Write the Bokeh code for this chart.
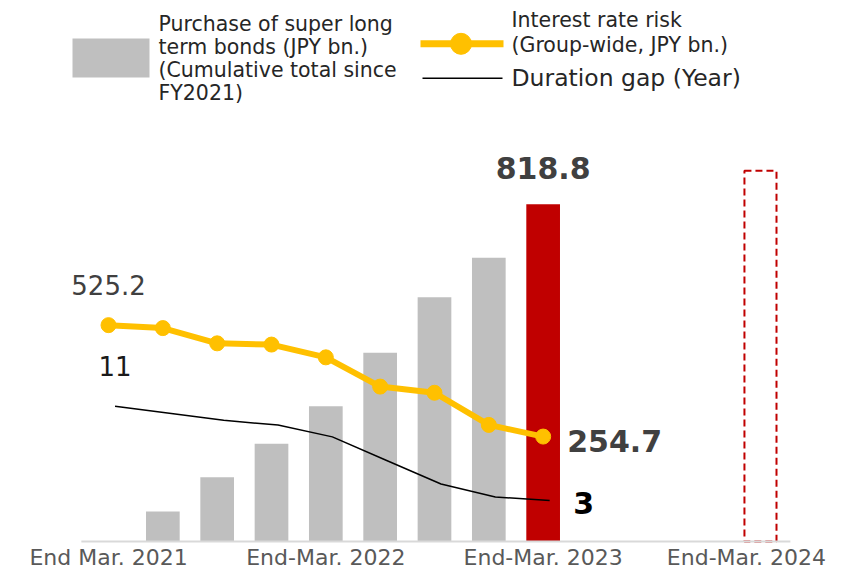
from bokeh.plotting import figure
from bokeh.models import Range1d, ColumnDataSource
from bokeh.core.properties import value
from bokeh.transform import dodge
from bokeh.embed import file_html
from bokeh.resources import INLINE

# ---------------- data ----------------
quarters = ["Mar-21", "Jun-21", "Sep-21", "Dec-21", "Mar-22", "Jun-22", "Sep-22",
            "Dec-22", "Mar-23", "Jun-23", "Sep-23", "Dec-23", "Mar-24"]
tick_quarters = ["Mar-21", "Mar-22", "Mar-23", "Mar-24"]
tick_labels = ["End Mar. 2021", "End-Mar. 2022", "End-Mar. 2023", "End-Mar. 2024"]

bond_quarters = ["Jun-21", "Sep-21", "Dec-21", "Mar-22", "Jun-22", "Sep-22", "Dec-22", "Mar-23"]
bond_purchase = [73, 156, 237, 328, 458, 593, 689, 818.8]   # JPY bn, cumulative since FY2021

target_quarters = ["Mar-24"]
target_purchase = [900]

risk_quarters = ["Mar-21", "Jun-21", "Sep-21", "Dec-21", "Mar-22", "Jun-22", "Sep-22", "Dec-22", "Mar-23"]
interest_rate_risk = [525.2, 518, 481, 478, 447, 376, 361, 283, 254.7]   # JPY bn
duration_gap = [11, 10.4, 9.8, 9.4, 8.4, 6.4, 4.4, 3.3, 3]                # years

legend_bar_lines = ["Purchase of super long", "term bonds (JPY bn.)",
                    "(Cumulative total since", "FY2021)"]
legend_risk_lines = ["Interest rate risk", "(Group-wide, JPY bn.)"]
legend_gap_label = "Duration gap (Year)"

# ---------------- styles ----------------
GRAY = "#BFBFBF"
RED = "#C00000"
YELLOW = "#FFC000"
FONT = value("DejaVu Sans")

pos = {q: i for i, q in enumerate(quarters)}

W, H = 835, 572
p = figure(width=W, height=H, output_backend="svg", toolbar_location=None,
           x_range=Range1d(-1.988, 13.381), y_range=Range1d(-75.25, 1313.2),
           x_axis_location=None, y_axis_location=None, min_border=0,
           outline_line_color=None, background_fill_color="white",
           border_fill_color="white")
p.grid.visible = False
p.extra_y_ranges = {"gap": Range1d(-3.104, 45.41), "ly": Range1d(H, 0)}
p.extra_x_ranges = {"lx": Range1d(0, W)}

# bars
bar_colors = [GRAY] * (len(bond_purchase) - 1) + [RED]
bar_src = ColumnDataSource(dict(x=[pos[q] for q in bond_quarters], top=bond_purchase, color=bar_colors))
p.vbar(x="x", top="top", bottom=0, width=0.62, fill_color="color", line_color=None, source=bar_src)

# target (dashed outline)
p.vbar(x=[pos[q] for q in target_quarters], top=target_purchase, bottom=0, width=0.59,
       fill_color=None, line_color=RED, line_width=2, line_dash="7 4")

# baseline
p.segment(x0=[-0.5], y0=[0], x1=[len(quarters) - 0.45], y1=[0], line_color="#D9D9D9", line_width=2)

# lines
line_src = ColumnDataSource(dict(x=[pos[q] for q in risk_quarters], risk=interest_rate_risk, gap=duration_gap))
p.line(x=dodge("x", 0.12, range=p.x_range), y="gap", y_range_name="gap", source=line_src,
       line_color="black", line_width=1.5)
p.line(x="x", y="risk", source=line_src, line_color=YELLOW, line_width=6)
p.scatter(x="x", y="risk", source=line_src, size=15, fill_color=YELLOW, line_color=YELLOW)

# data labels
first, last = 0, len(risk_quarters) - 1
p.text(x=[pos[risk_quarters[first]]], y=[interest_rate_risk[first]],
       text=[f"{interest_rate_risk[first]:.1f}"], text_align="center", text_baseline="alphabetic",
       y_offset=-40, text_font=FONT, text_font_size="26px", text_color="#404040")
p.text(x=[pos[risk_quarters[first]]], y=[duration_gap[first]], y_range_name="gap",
       text=[f"{duration_gap[first]:g}"], text_align="center", text_baseline="alphabetic",
       x_offset=6.5, y_offset=-40, text_font=FONT, text_font_size="26px", text_color="#1A1A1A")
p.text(x=[pos[bond_quarters[-1]]], y=[bond_purchase[-1]], text=[f"{bond_purchase[-1]:.1f}"],
       text_align="center", text_baseline="alphabetic", y_offset=-36, text_font=FONT,
       text_font_size="30px", text_font_style="bold", text_color="#404040")
p.text(x=[pos[risk_quarters[last]]], y=[interest_rate_risk[last]], text=[f"{interest_rate_risk[last]:.1f}"],
       text_align="left", text_baseline="alphabetic", x_offset=24, y_offset=4, text_font=FONT,
       text_font_size="30px", text_font_style="bold", text_color="#404040")
p.text(x=[pos[risk_quarters[last]]], y=[duration_gap[last]], y_range_name="gap",
       text=[f"{duration_gap[last]:g}"], text_align="left", text_baseline="alphabetic",
       x_offset=30, y_offset=2, text_font=FONT, text_font_size="30px",
       text_font_style="bold", text_color="black")

# category labels (kept inside the canvas)
tick_src = ColumnDataSource(dict(x=[pos[q] for q in tick_quarters], y=[0] * len(tick_quarters),
                                 text=tick_labels, dx=[0, 0, 0, -14]))
p.text(x="x", y="y", text="text", x_offset="dx", source=tick_src,
       text_align="center", text_baseline="alphabetic", y_offset=16, text_font=FONT,
       text_font_size="22px", text_color="#595959")

# legend (pixel layout ranges)
p.quad(left=[72], right=[149], top=[38], bottom=[77], x_range_name="lx", y_range_name="ly",
       fill_color=GRAY, line_color=None)
p.text(x=[158] * 4, y=[23.1, 46.1, 69.1, 92.1], text=legend_bar_lines, x_range_name="lx",
       y_range_name="ly", text_baseline="alphabetic", text_font=FONT, text_font_size="20.5px",
       text_color="#262626")
p.line(x=[420, 503], y=[43.3, 43.3], x_range_name="lx", y_range_name="ly", line_color=YELLOW, line_width=7)
p.scatter(x=[460.5], y=[43.3], x_range_name="lx", y_range_name="ly", size=21,
          fill_color=YELLOW, line_color=YELLOW)
p.text(x=[511] * 2, y=[19.9, 44.6], text=legend_risk_lines, x_range_name="lx", y_range_name="ly",
       text_baseline="alphabetic", text_font=FONT, text_font_size="20.5px", text_color="#262626")
p.line(x=[422, 502], y=[77.7, 77.7], x_range_name="lx", y_range_name="ly", line_color="black", line_width=1.5)
p.text(x=[511], y=[77.7], text=[legend_gap_label], x_range_name="lx", y_range_name="ly",
       text_baseline="alphabetic", text_font=FONT, text_font_size="23.5px", text_color="#262626")

open("out.html", "w").write(file_html(p, INLINE))
